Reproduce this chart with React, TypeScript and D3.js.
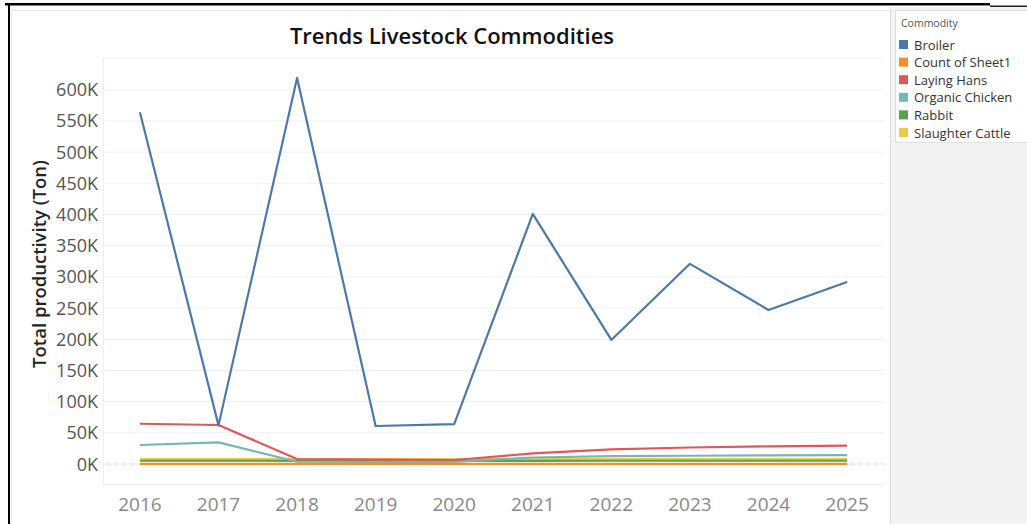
import React from "react";
import * as d3 from "d3";

const years = ["2016", "2017", "2018", "2019", "2020", "2021", "2022", "2023", "2024", "2025"];
const commodities = ["Broiler", "Count of Sheet1", "Laying Hans", "Organic Chicken", "Rabbit", "Slaughter Cattle"];
const colors = ["#4e79a7", "#f28e2b", "#e15759", "#76b7b2", "#59a14f", "#edc948"];

const broiler = [564000, 62000, 619000, 61000, 64000, 401000, 199000, 321000, 247000, 292000];
const countOfSheet1 = [300, 300, 300, 300, 300, 300, 300, 300, 300, 300];
const layingHans = [64600, 62600, 8000, 7000, 6500, 17000, 23500, 26500, 28300, 29400];
const organicChicken = [30500, 34800, 3700, 3500, 3500, 10500, 12800, 13300, 14000, 14400];
const rabbit = [5300, 5300, 5200, 5000, 5000, 5200, 5300, 5300, 5300, 5300];
const slaughterCattle = [8000, 8000, 7800, 7800, 7800, 8000, 8000, 8000, 8000, 8000];

const seriesValues = [broiler, countOfSheet1, layingHans, organicChicken, rabbit, slaughterCattle];
const yTicks = [0, 50000, 100000, 150000, 200000, 250000, 300000, 350000, 400000, 450000, 500000, 550000, 600000];

const FONT = "'Open Sans', 'Noto Sans', sans-serif";

export default function App() {
  const left = 103, right = 884, top = 58, bottom = 484;
  const x = d3.scalePoint<string>().domain(years).range([left, right]).padding(0.47);
  const y = d3.scaleLinear().domain([-32000, 651000]).range([bottom, top]);
  const line = d3
    .line<number>()
    .x((_, i) => x(years[i]) as number)
    .y((v) => y(v));

  const order = [5, 4, 3, 1, 2, 0];

  return (
    <svg
      width={1027}
      height={524}
      style={{ position: "absolute", left: 0, top: 0, background: "#fff" }}
      fontFamily={FONT}
    >
      <rect x={0} y={0} width={1027} height={524} fill="#fff" />
      {/* legend panel background */}
      <rect x={890} y={7} width={137} height={517} fill="#f3f3f3" />
      <line x1={890.5} x2={890.5} y1={7} y2={524} stroke="#dcdcdc" />
      {/* inner chart border */}
      <line x1={11.5} x2={11.5} y1={10} y2={524} stroke="#e6e6e6" />
      <line x1={11} x2={890} y1={10.5} y2={10.5} stroke="#e6e6e6" />
      {/* frame lines */}
      <rect x={5} y={3} width={985} height={2.5} fill="#000" />
      <rect x={990} y={5.5} width={37} height={1.5} fill="#222" />
      <rect x={8} y={5} width={2} height={519} fill="#000" />

      {/* title */}
      <text x={452} y={44} textAnchor="middle" fontSize={22} fontWeight={600} fill="#111">
        Trends Livestock Commodities
      </text>

      {/* gridlines */}
      {yTicks.map((t) =>
        t === 0 ? null : (
          <line key={t} x1={left} x2={right} y1={y(t)} y2={y(t)} stroke="#efefef" strokeWidth={1} />
        )
      )}
      <line x1={left} x2={right} y1={top} y2={top} stroke="#f3f3f3" />
      <line x1={left} x2={right} y1={y(0)} y2={y(0)} stroke="#c8c8c8" strokeDasharray="1,1" />
      <line x1={left + 0.5} x2={left + 0.5} y1={top} y2={bottom} stroke="#eeeeee" />
      <line x1={left} x2={right} y1={bottom + 0.5} y2={bottom + 0.5} stroke="#eeeeee" />

      {/* y tick labels */}
      {yTicks.map((t) => (
        <text key={t} x={98} y={y(t)} dy="0.36em" textAnchor="end" fontSize={18} fill="#555">
          {`${t / 1000}K`}
        </text>
      ))}

      {/* y axis title */}
      <text
        transform={`translate(46, ${264}) rotate(-90)`}
        textAnchor="middle"
        fontSize={18.5}
        fontWeight={600}
        fill="#222"
      >
        Total productivity (Ton)
      </text>

      {/* x labels */}
      {years.map((yr) => (
        <text key={yr} x={x(yr)} y={511} textAnchor="middle" fontSize={19} fill="#888">
          {yr}
        </text>
      ))}

      {/* lines */}
      {order.map((i) => (
        <path
          key={commodities[i]}
          d={line(seriesValues[i]) || ""}
          fill="none"
          stroke={colors[i]}
          strokeWidth={2.2}
          strokeLinejoin="round"
        />
      ))}

      {/* legend */}
      <rect x={895.5} y={10.5} width={140} height={132} fill="#fff" stroke="#e0e0e0" />
      <text x={901} y={27} fontSize={10.5} fill="#555">
        Commodity
      </text>
      {commodities.map((c, i) => (
        <g key={c} transform={`translate(0, ${45 + i * 17.6})`}>
          <rect x={899} y={-5} width={9} height={9} fill={colors[i]} />
          <text x={914} y={0} dy="0.36em" fontSize={13} fill="#333">
            {c}
          </text>
        </g>
      ))}
    </svg>
  );
}
